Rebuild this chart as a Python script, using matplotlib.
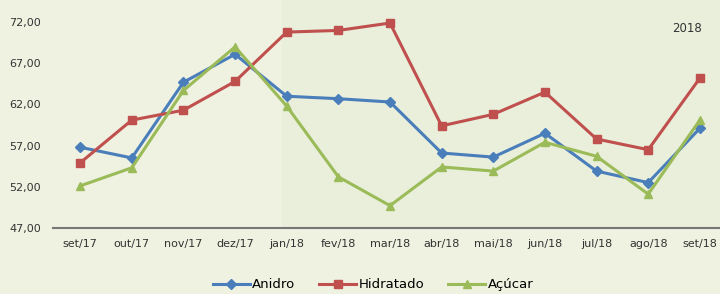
import matplotlib.pyplot as plt

months = ["set/17", "out/17", "nov/17", "dez/17", "jan/18", "fev/18", "mar/18",
          "abr/18", "mai/18", "jun/18", "jul/18", "ago/18", "set/18"]
anidro = [56.8, 55.5, 64.7, 68.1, 63.0, 62.7, 62.3, 56.1, 55.6, 58.5, 53.9, 52.5, 59.1]
hidratado = [54.9, 60.1, 61.3, 64.8, 70.8, 71.0, 71.9, 59.4, 60.8, 63.5, 57.8, 56.5, 65.2]
acucar = [52.1, 54.3, 63.7, 69.0, 61.8, 53.2, 49.7, 54.4, 53.9, 57.4, 55.7, 51.1, 60.1]
yticks = [47, 52, 57, 62, 67, 72]

BG = "#eff1e1"

fig = plt.figure(figsize=(7.2, 2.94), dpi=100, facecolor=BG)
ax = fig.add_axes([0.074, 0.225, 0.926, 0.775])
ax.set_facecolor(BG)

x = list(range(len(months)))
# slightly greener panel from jan/18 on
ax.axvspan(3.9, 12.5, color="#e9efdb", zorder=0, lw=0)

ax.plot(x, anidro, color="#4a7ebb", lw=2.2, marker="D", ms=5, label="Anidro", zorder=3)
ax.plot(x, hidratado, color="#c0504d", lw=2.2, marker="s", ms=6, label="Hidratado", zorder=3)
ax.plot(x, acucar, color="#9bbb59", lw=2.2, marker="^", ms=6, label="Açúcar", zorder=3)

ax.set_xlim(-0.52, 12.39)
ax.set_ylim(47, 74.7)
ax.set_xticks(x)
ax.set_xticklabels(months, fontsize=8, color="#333333")
ax.set_yticks(yticks)
ax.set_yticklabels([f"{v},00" for v in yticks], fontsize=8, color="#333333")
ax.tick_params(length=0, pad=8)
ax.tick_params(axis="y", pad=9)

for s in ["top", "right", "left"]:
    ax.spines[s].set_visible(False)
ax.spines["bottom"].set_color("#777777")
ax.spines["bottom"].set_linewidth(1.5)

ax.text(11.75, 71.2, "2018", fontsize=8.5, color="#333333", ha="center", va="center")

ax.legend(loc="upper center", bbox_to_anchor=(0.48, -0.17), ncol=3, frameon=False,
          fontsize=9.5, handlelength=2.8, columnspacing=1.8, handletextpad=0.2)

plt.savefig("out.png", dpi=100, facecolor=BG)
